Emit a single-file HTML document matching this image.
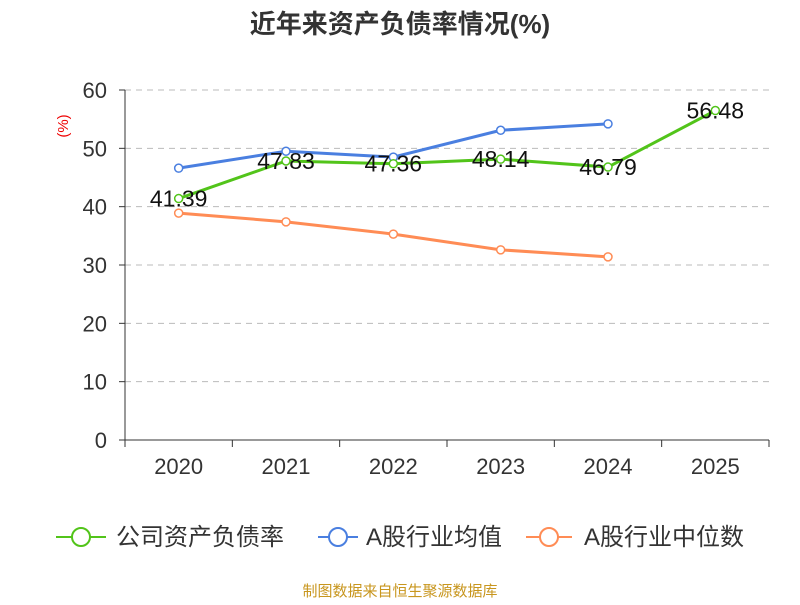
<!DOCTYPE html>
<html><head><meta charset="utf-8">
<style>
body{margin:0;background:#fff;}
svg text{font-family:"Liberation Sans","Noto Sans CJK SC",sans-serif;}
</style></head>
<body>
<svg id="chart" width="800" height="600">
<text x="400" y="33" text-anchor="middle" font-size="26" font-weight="bold" fill="#333">近年来资产负债率情况(%)</text>
<text x="68" y="126" text-anchor="middle" font-size="15" fill="#e00" transform="rotate(-90 68 126)">(%)</text>
<g id="grid"></g><g id="axes"></g><g id="series"></g>
<g>
 <g>
  <line x1="56" y1="537" x2="106" y2="537" stroke="#52c41a" stroke-width="2"/>
  <circle cx="81" cy="537" r="9" fill="#fff" stroke="#52c41a" stroke-width="2"/>
  <text x="116" y="545" font-size="24" fill="#333">公司资产负债率</text>
 </g>
 <g>
  <line x1="318" y1="537" x2="358" y2="537" stroke="#4a7fe0" stroke-width="2"/>
  <circle cx="338" cy="537" r="9" fill="#fff" stroke="#4a7fe0" stroke-width="2"/>
  <text x="366" y="545" font-size="24" fill="#333">A股行业均值</text>
 </g>
 <g>
  <line x1="526" y1="537" x2="572" y2="537" stroke="#ff8c55" stroke-width="2"/>
  <circle cx="549" cy="537" r="9" fill="#fff" stroke="#ff8c55" stroke-width="2"/>
  <text x="584" y="545" font-size="24" fill="#333">A股行业中位数</text>
 </g>
</g>
<text x="400" y="596" text-anchor="middle" font-size="15" fill="#c8961e">制图数据来自恒生聚源数据库</text>
</svg>
<script>
const categories=["2020","2021","2022","2023","2024","2025"];
const companyValues=[41.39,47.83,47.36,48.14,46.79,56.48];
const meanValues=[46.6,49.5,48.5,53.1,54.2];
const medianValues=[38.9,37.4,35.3,32.6,31.4];
const yTicks=[0,10,20,30,40,50,60];
const NS="http://www.w3.org/2000/svg";
const x0=125,x1=769,y0=440,yTop=90,yMax=60;
const bw=(x1-x0)/categories.length;
const xs=i=>x0+bw*(i+0.5);
const ys=v=>y0-(v/yMax)*(y0-yTop);
function mk(tag,attrs,parent){const e=document.createElementNS(NS,tag);for(const k in attrs)e.setAttribute(k,attrs[k]);document.getElementById(parent).appendChild(e);return e;}
yTicks.forEach(t=>{
 if(t>0){const g=mk('line',{x1:x0,x2:x1,y1:ys(t),y2:ys(t),stroke:'#bbb','stroke-dasharray':'6,5'},'grid');
 
 }
 const tk=mk('line',{x1:x0-6,x2:x0,y1:ys(t),y2:ys(t),stroke:'#333'},'axes');
 
 
 const l=mk('text',{x:x0-18,y:ys(t)+8,'text-anchor':'end','font-size':22,fill:'#333'},'axes');l.textContent=t;
 
 
});
const ya=mk('line',{x1:x0,x2:x0,y1:yTop,y2:y0,stroke:'#333'},'axes');


const xa=mk('line',{x1:x0,x2:x1,y1:y0,y2:y0,stroke:'#333'},'axes');


for(let i=0;i<=categories.length;i++){const t=mk('line',{x1:x0+bw*i,x2:x0+bw*i,y1:y0,y2:y0+7,stroke:'#333'},'axes');
 
 }
categories.forEach((c,i)=>{const l=mk('text',{x:xs(i),y:y0+34,'text-anchor':'middle','font-size':22,fill:'#333'},'axes');l.textContent=c;
 
 });
function series(vals,color,name,labels){
 const pts=vals.map((v,i)=>xs(i)+','+ys(v)).join(' ');
 const p=mk('polyline',{points:pts,fill:'none',stroke:color,'stroke-width':3},'series');
 
 
 vals.forEach((v,i)=>{const c=mk('circle',{cx:xs(i),cy:ys(v),r:4,fill:'#fff',stroke:color,'stroke-width':1.5},'series');
  
  
  if(labels){const t=mk('text',{x:xs(i),y:ys(v)+8,'text-anchor':'middle','font-size':23,fill:'#111'},'series');t.textContent=v.toFixed(2);
  
  }
 });
}
series(medianValues,'#ff8c55','industry-median',false);
series(meanValues,'#4a7fe0','industry-mean',false);
series(companyValues,'#52c41a','company',true);
</script>
</body></html>
